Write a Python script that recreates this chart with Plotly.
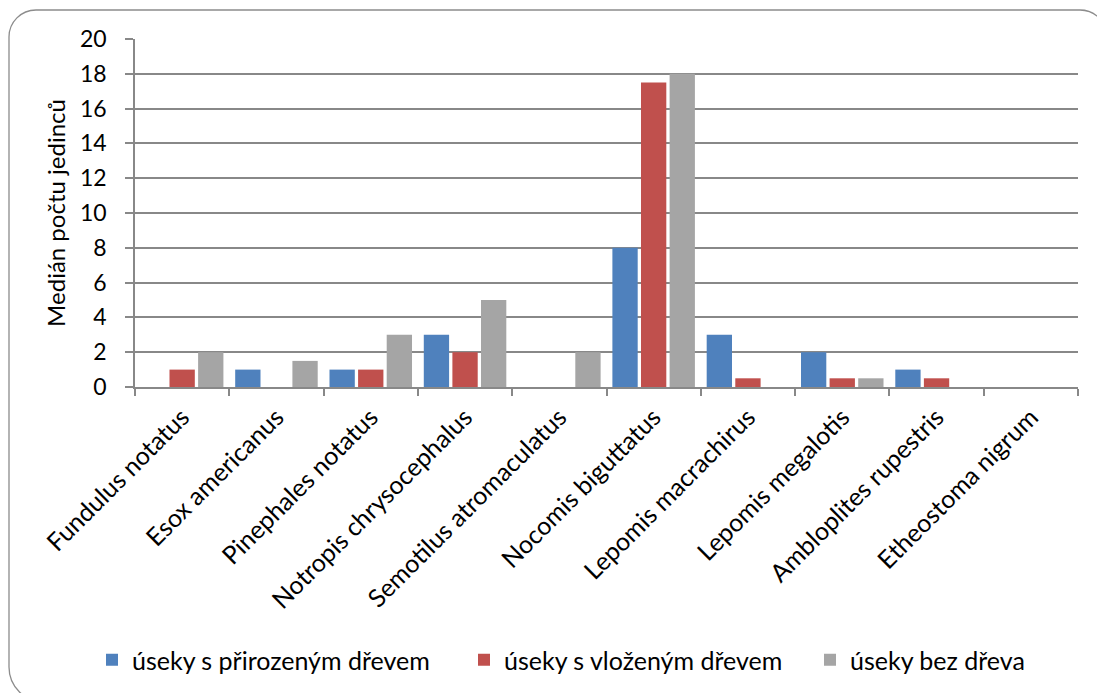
import plotly.graph_objects as go

# Fish species (x categories)
species = [
    "Fundulus notatus", "Esox americanus", "Pinephales notatus",
    "Notropis chrysocephalus", "Semotilus atromaculatus", "Nocomis biguttatus",
    "Lepomis macrachirus", "Lepomis megalotis", "Ambloplites rupestris",
    "Etheostoma nigrum",
]

# Median counts per reach type
natural_wood = [0, 1, 1, 3, 0, 8, 3, 2, 1, 0]
added_wood = [1, 0, 1, 2, 0, 17.5, 0.5, 0.5, 0.5, 0]
no_wood = [2, 1.5, 3, 5, 2, 18, 0, 0.5, 0, 0]

series_names = ["úseky s přirozeným dřevem", "úseky s vloženým dřevem", "úseky bez dřeva"]
series_colors = ["#4F81BD", "#C0504D", "#A5A5A5"]
y_ticks = [0, 2, 4, 6, 8, 10, 12, 14, 16, 18, 20]

FONT = "Lato"
W, H = 1097, 693
ML, MR, MT, MB = 135, 19, 39, 306

pw = W - ML - MR
ph = H - MT - MB


def px(x):
    return (x - ML) / pw


def py(y):
    return (H - MB - y) / ph


fig = go.Figure()
legend_ids = ["legend", "legend2", "legend3"]
for name, vals, col, lg in zip(series_names, [natural_wood, added_wood, no_wood],
                               series_colors, legend_ids):
    fig.add_trace(go.Bar(
        x=species, y=vals, name=name, legend=lg,
        marker=dict(color=col, line=dict(width=0)),
    ))

# rounded outer frame, expressed in paper coordinates from pixel positions
k = 0.5523
L, T, R, B = 9, 10, 1107, 702
rt, rb = 27, 35
pts = [
    f"M{px(L)},{py(T + rt)}",
    f"C{px(L)},{py(T + rt - rt * k)} {px(L + rt - rt * k)},{py(T)} {px(L + rt)},{py(T)}",
    f"L{px(R - rt)},{py(T)}",
    f"C{px(R - rt + rt * k)},{py(T)} {px(R)},{py(T + rt - rt * k)} {px(R)},{py(T + rt)}",
    f"L{px(R)},{py(B)}",
    f"L{px(L + rb)},{py(B)}",
    f"C{px(L + rb - rb * k)},{py(B)} {px(L)},{py(B - rb + rb * k)} {px(L)},{py(B - rb)}",
    "Z",
]
fig.add_shape(type="path", xref="paper", yref="paper", path=" ".join(pts),
              line=dict(color="#8C8C8C", width=1.3), layer="below")


def legend_at(x_px):
    return dict(
        orientation="h", x=px(x_px), xanchor="left", y=py(660), yanchor="middle",
        font=dict(family=FONT, size=25, color="black"),
        bgcolor="rgba(0,0,0,0)",
    )


grid_col = "#888888"
fig.update_layout(
    width=W, height=H,
    margin=dict(l=ML, r=MR, t=MT, b=MB, autoexpand=False),
    paper_bgcolor="white", plot_bgcolor="white",
    font=dict(family=FONT, size=24, color="black"),
    barmode="group", bargap=0.09, bargroupgap=0.115,
    showlegend=True,
    legend=legend_at(92),
    legend2=legend_at(464),
    legend3=legend_at(810),
    xaxis=dict(
        type="category", tickson="boundaries",
        ticks="outside", ticklen=7, tickcolor=grid_col, tickwidth=1.5,
        showline=True, linecolor=grid_col, linewidth=1.5,
        tickangle=-45, showgrid=False, automargin=False,
        ticklabelstandoff=4,
        tickfont=dict(family=FONT, size=25, color="black"),
    ),
    yaxis=dict(
        range=[0, 20], tickvals=y_ticks,
        ticks="outside", ticklen=8, tickcolor=grid_col, tickwidth=1.5,
        showline=True, linecolor=grid_col, linewidth=1.5,
        showgrid=True, gridcolor=grid_col, gridwidth=1.5,
        zeroline=False, automargin=False,
        ticklabelstandoff=14,
        tickfont=dict(family=FONT, size=23, color="black"),
        title=dict(text="Medián počtu jedinců", standoff=8,
                   font=dict(family=FONT, size=24, color="black")),
    ),
)

fig.write_html("out.html")
